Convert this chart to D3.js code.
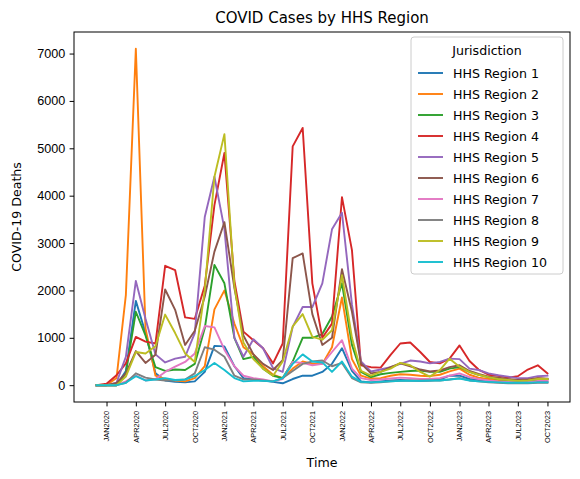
<!DOCTYPE html>
<html lang="en">
<head>
<meta charset="UTF-8">
<title>COVID Cases by HHS Region</title>
<script src="https://d3js.org/d3.v7.min.js"></script>
<style>
  body { margin: 0; background: #fff; }
  svg { font-family: "DejaVu Sans", sans-serif; }
</style>
</head>
<body>
<div id="chart"></div>
<script>
// monthly points, Dec 2019 .. Oct 2023
const months = [
  "2019-12",
  "2020-01", "2020-02", "2020-03", "2020-04", "2020-05", "2020-06",
  "2020-07", "2020-08", "2020-09", "2020-10", "2020-11", "2020-12",
  "2021-01", "2021-02", "2021-03", "2021-04", "2021-05", "2021-06",
  "2021-07", "2021-08", "2021-09", "2021-10", "2021-11", "2021-12",
  "2022-01", "2022-02", "2022-03", "2022-04", "2022-05", "2022-06",
  "2022-07", "2022-08", "2022-09", "2022-10", "2022-11", "2022-12",
  "2023-01", "2023-02", "2023-03", "2023-04", "2023-05", "2023-06",
  "2023-07", "2023-08", "2023-09", "2023-10"
];

const regionNames = ["HHS Region 1", "HHS Region 2", "HHS Region 3", "HHS Region 4", "HHS Region 5",
                     "HHS Region 6", "HHS Region 7", "HHS Region 8", "HHS Region 9", "HHS Region 10"];

const region1 = [0, 0, 0, 300, 1780, 1100, 250, 100, 70, 60, 80, 280, 830,
  820, 400, 150, 120, 100, 70, 40, 130, 200, 200, 280, 450,
  780, 300, 80, 60, 80, 100, 110, 100, 90, 100, 120, 200,
  200, 130, 110, 100, 80, 60, 50, 60, 80, 70];
const region2 = [0, 0, 150, 1900, 7100, 1200, 200, 130, 100, 80, 150, 400, 1600,
  2000, 1300, 800, 650, 400, 220, 150, 350, 500, 450, 450, 800,
  1850, 550, 200, 140, 150, 200, 230, 220, 200, 190, 220, 290,
  350, 220, 160, 130, 100, 90, 80, 100, 150, 130];
const region3 = [0, 0, 0, 250, 1550, 1050, 380, 300, 330, 320, 450, 1200, 2540,
  2150, 1000, 550, 600, 350, 200, 150, 500, 1000, 1000, 1080, 1450,
  2150, 850, 280, 170, 230, 260, 280, 300, 310, 280, 280, 350,
  380, 280, 220, 170, 130, 110, 90, 90, 110, 120];
const region4 = [0, 30, 210, 460, 1020, 920, 880, 2520, 2430, 1430, 1400, 2100, 3800,
  4900, 2200, 1130, 950, 780, 460, 880, 5040, 5430, 2150, 1000, 1300,
  3970, 2850, 420, 380, 370, 640, 880, 900, 700, 490, 460, 560,
  840, 510, 330, 220, 200, 160, 190, 330, 420, 250];
const region5 = [0, 0, 50, 600, 2200, 1400, 650, 480, 560, 600, 1100, 3550, 4400,
  3300, 1000, 600, 970, 780, 360, 280, 1230, 1650, 1650, 2150, 3290,
  3640, 1700, 500, 290, 330, 380, 450, 520, 500, 460, 490, 560,
  550, 350, 320, 250, 210, 180, 150, 150, 190, 200];
const region6 = [0, 0, 50, 250, 720, 470, 640, 2020, 1590, 850, 1150, 1870, 2820,
  3440, 2050, 1050, 650, 450, 320, 530, 2680, 2780, 1500, 850, 1000,
  2450, 1550, 460, 250, 280, 380, 460, 400, 330, 290, 310, 380,
  420, 300, 240, 180, 160, 130, 110, 120, 150, 140];
const region7 = [0, 0, 0, 80, 200, 100, 130, 280, 390, 490, 670, 1250, 1220,
  750, 400, 200, 150, 120, 80, 130, 490, 470, 420, 450, 700,
  950, 350, 150, 110, 120, 140, 160, 150, 130, 130, 150, 200,
  250, 170, 130, 100, 80, 70, 60, 70, 90, 90];
const region8 = [0, 0, 0, 50, 250, 160, 120, 100, 100, 120, 250, 800, 750,
  600, 200, 120, 120, 100, 80, 150, 300, 450, 500, 520, 400,
  470, 150, 60, 50, 60, 80, 90, 100, 100, 100, 100, 120,
  150, 100, 80, 60, 50, 40, 40, 40, 50, 50];
const region9 = [0, 0, 0, 180, 700, 670, 820, 1490, 1100, 670, 490, 2000, 4400,
  5300, 2100, 900, 550, 350, 200, 500, 1240, 1500, 1020, 960, 1160,
  2320, 1000, 300, 200, 280, 350, 470, 420, 280, 180, 320, 560,
  390, 280, 220, 170, 130, 110, 90, 100, 130, 130];
const region10 = [0, 0, 0, 50, 190, 100, 120, 150, 110, 120, 190, 320, 470,
  320, 150, 80, 90, 90, 80, 150, 450, 650, 500, 480, 280,
  500, 180, 70, 60, 70, 80, 90, 90, 90, 100, 100, 120,
  140, 100, 80, 70, 60, 50, 50, 50, 60, 60];

const yTicks = [0, 1000, 2000, 3000, 4000, 5000, 6000, 7000];

const colors = ["#1f77b4", "#ff7f0e", "#2ca02c", "#d62728", "#9467bd",
                "#8c564b", "#e377c2", "#7f7f7f", "#bcbd22", "#17becf"];

const width = 580, height = 479;
const plot = { left: 74, right: 570, top: 32, bottom: 402 };

const parse = d3.timeParse("%Y-%m");
const dates = months.map(parse);
const allValues = [region1, region2, region3, region4, region5,
                   region6, region7, region8, region9, region10];
const series = regionNames.map((name, i) => ({
  name: name,
  color: colors[i],
  points: dates.map((d, j) => ({ date: d, value: allValues[i][j] }))
}));

const svg = d3.select("#chart").append("svg")
  .attr("width", width)
  .attr("height", height);

// matplotlib style 5% margins
const first = dates[0], last = dates[dates.length - 1];
const pad = (last - first) * 0.05;
const x = d3.scaleTime()
  .domain([new Date(+first - pad), new Date(+last + pad)])
  .range([plot.left, plot.right]);

const yMin = d3.min(allValues, a => d3.min(a));
const yMax = d3.max(allValues, a => d3.max(a));
const yPad = (yMax - yMin) * 0.05;
const y = d3.scaleLinear()
  .domain([yMin - yPad, yMax + yPad])
  .range([plot.bottom, plot.top]);

// lines
const line = d3.line()
  .x(d => x(d.date))
  .y(d => y(d.value));

svg.append("clipPath").attr("id", "clip")
  .append("rect")
  .attr("x", plot.left).attr("y", plot.top)
  .attr("width", plot.right - plot.left)
  .attr("height", plot.bottom - plot.top);

svg.append("g")
  .attr("clip-path", "url(#clip)")
  .selectAll("path")
  .data(series)
  .join("path")
  .attr("fill", "none")
  .attr("stroke", d => d.color)
  .attr("stroke-width", 1.9)
  .attr("stroke-linejoin", "round")
  .attr("stroke-linecap", "square")
  .attr("d", d => line(d.points));

// x axis
const tickDates = d3.timeMonth.every(3).range(parse("2020-01"), new Date(+last + 1));
const fmt = d3.timeFormat("%b%Y");

const xAxis = svg.append("g")
  .attr("transform", `translate(0,${plot.bottom})`)
  .call(d3.axisBottom(x)
    .tickValues(tickDates)
    .tickSize(4.4)
    .tickPadding(4.5)
    .tickFormat(d => fmt(d).toUpperCase()));

xAxis.select(".domain").remove();
xAxis.selectAll("line").attr("stroke", "#000").attr("stroke-width", 1);
xAxis.selectAll("text")
  .attr("font-size", 7.4)
  .attr("fill", "#000")
  .attr("transform", "rotate(-90)")
  .attr("text-anchor", "end")
  .attr("x", -9)
  .attr("y", 0)
  .attr("dy", "0.33em");

// y axis
const yAxis = svg.append("g")
  .attr("transform", `translate(${plot.left},0)`)
  .call(d3.axisLeft(y)
    .tickValues(yTicks)
    .tickSize(4.4)
    .tickPadding(4.4)
    .tickFormat(d3.format("d")));

yAxis.select(".domain").remove();
yAxis.selectAll("line").attr("stroke", "#000").attr("stroke-width", 1);
yAxis.selectAll("text")
  .attr("font-size", 12.6)
  .attr("fill", "#000");

// frame
svg.append("rect")
  .attr("x", plot.left).attr("y", plot.top)
  .attr("width", plot.right - plot.left)
  .attr("height", plot.bottom - plot.top)
  .attr("fill", "none")
  .attr("stroke", "#000")
  .attr("stroke-width", 1);

// titles
svg.append("text")
  .attr("x", (plot.left + plot.right) / 2)
  .attr("y", 23)
  .attr("text-anchor", "middle")
  .attr("font-size", 15)
  .text("COVID Cases by HHS Region");

svg.append("text")
  .attr("x", (plot.left + plot.right) / 2)
  .attr("y", 467)
  .attr("text-anchor", "middle")
  .attr("font-size", 12.6)
  .text("Time");

svg.append("text")
  .attr("transform", `translate(21,${(plot.top + plot.bottom) / 2}) rotate(-90)`)
  .attr("text-anchor", "middle")
  .attr("font-size", 12.6)
  .text("COVID-19 Deaths");

// legend
const lg = svg.append("g").attr("transform", "translate(411,37)");
lg.append("rect")
  .attr("width", 152)
  .attr("height", 237)
  .attr("rx", 3)
  .attr("fill", "#fff")
  .attr("fill-opacity", 0.8)
  .attr("stroke", "#cccccc")
  .attr("stroke-width", 1);

lg.append("text")
  .attr("x", 76)
  .attr("y", 13)
  .attr("text-anchor", "middle")
  .attr("dominant-baseline", "central")
  .attr("font-size", 12.6)
  .text("Jurisdiction");

const items = lg.selectAll("g.item")
  .data(series)
  .join("g")
  .attr("class", "item")
  .attr("transform", (d, i) => `translate(0,${36 + i * 21})`);

items.append("line")
  .attr("x1", 7).attr("x2", 32)
  .attr("stroke", d => d.color)
  .attr("stroke-width", 1.9);

items.append("text")
  .attr("x", 42)
  .attr("dominant-baseline", "central")
  .attr("font-size", 12.6)
  .text(d => d.name);
</script>
</body>
</html>
